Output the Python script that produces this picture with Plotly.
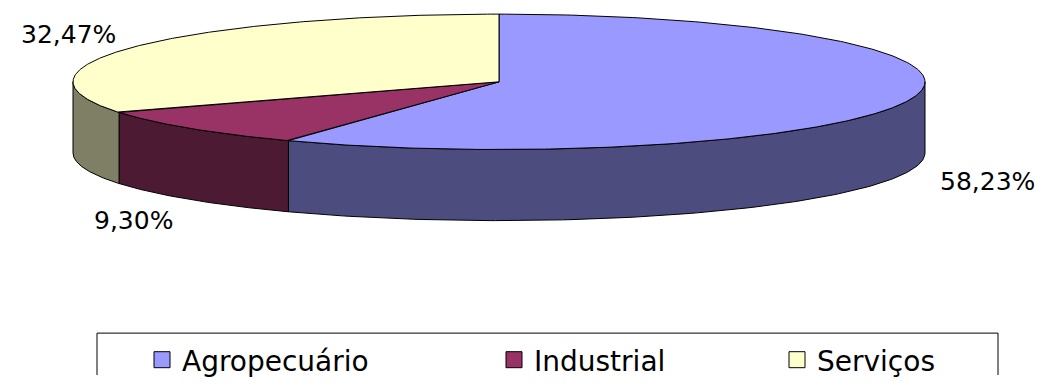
import numpy as np
import plotly.graph_objects as go

# Sector shares of the economy (%)
categories = ["Agropecuário", "Industrial", "Serviços"]
shares = [58.23, 9.30, 32.47]

# Slice colours: lit top face and shaded outer wall
top_colors = ["#9999FF", "#993366", "#FFFFCC"]
side_colors = ["#4C4C7F", "#4C1A33", "#7F7F66"]

# Canvas and 3D pie geometry (pixel units, y grows downwards)
W, H = 1049, 385
CX, CY = 499, 84          # centre of the top face
RX, RY = 426, 69.5        # semi-axes of the top ellipse
DEPTH = 73                # thickness of the disc
LABEL_KX, LABEL_KY, LABEL_DROP = 1.185, 1.33, 6
FONT = "DejaVu Sans"


def rim(t, dy=0.0):
    """Point on the ellipse rim; t measured clockwise from 12 o'clock."""
    return CX + RX * np.sin(t), CY - RY * np.cos(t) + dy


fig = go.Figure()

bounds = np.concatenate([[0.0], np.cumsum(shares)]) / sum(shares) * 2 * np.pi

# Outer walls (only the front half of the disc faces the viewer)
for i, name in enumerate(categories):
    lo = max(bounds[i], np.pi / 2)
    hi = min(bounds[i + 1], 3 * np.pi / 2)
    if hi <= lo:
        continue
    t = np.linspace(lo, hi, 120)
    xt, yt = rim(t)
    xb, yb = rim(t[::-1], DEPTH)
    fig.add_trace(go.Scatter(
        x=np.concatenate([xt, xb, xt[:1]]),
        y=np.concatenate([yt, yb, yt[:1]]),
        mode="lines", fill="toself", fillcolor=side_colors[i],
        line=dict(color="black", width=1),
        hoverinfo="skip", showlegend=False,
    ))

# Top faces
for i, name in enumerate(categories):
    t = np.linspace(bounds[i], bounds[i + 1], 300)
    xt, yt = rim(t)
    fig.add_trace(go.Scatter(
        x=np.concatenate([[CX], xt, [CX]]),
        y=np.concatenate([[CY], yt, [CY]]),
        mode="lines", fill="toself", fillcolor=top_colors[i],
        line=dict(color="black", width=1),
        name=name, hoverinfo="name", showlegend=False,
    ))

# Percentage labels outside each slice
for i, v in enumerate(shares):
    mid = (bounds[i] + bounds[i + 1]) / 2
    lx = CX + LABEL_KX * RX * np.sin(mid)
    ly = CY - LABEL_KY * RY * np.cos(mid)
    if np.cos(mid) < 0:
        ly += DEPTH + LABEL_DROP
    fig.add_annotation(
        x=lx, y=ly, text=f"{v:.2f}".replace(".", ",") + "%",
        showarrow=False, xanchor="center", yanchor="middle",
        font=dict(family=FONT, size=25, color="black"),
    )

# Legend entries, one legend per category laid out along the bottom
legend_ids = ["legend", "legend2", "legend3"]
legend_x = [142, 494, 777]
for i, name in enumerate(categories):
    fig.add_trace(go.Scatter(
        x=[None], y=[None], mode="markers", name=name,
        marker=dict(symbol="square", size=16, color=top_colors[i],
                    line=dict(color="black", width=1)),
        legend=legend_ids[i], showlegend=True,
    ))

legend_style = dict(
    orientation="h", xanchor="left", yanchor="middle",
    y=1 - 370 / H, bgcolor="rgba(0,0,0,0)", borderwidth=0,
    font=dict(family=FONT, size=28, color="black"),
)
fig.update_layout(
    legend=dict(x=legend_x[0] / W, **legend_style),
    legend2=dict(x=legend_x[1] / W, **legend_style),
    legend3=dict(x=legend_x[2] / W, **legend_style),
)

# Frame around the legend row
fig.add_shape(type="rect", xref="x", yref="y", x0=97, x1=998, y0=342, y1=H + 10,
              line=dict(color="black", width=1), fillcolor="rgba(0,0,0,0)",
              layer="below")

fig.update_layout(
    width=W, height=H,
    margin=dict(l=0, r=0, t=0, b=0),
    paper_bgcolor="white", plot_bgcolor="white",
    xaxis=dict(range=[0, W], visible=False, fixedrange=True),
    yaxis=dict(range=[H, 0], visible=False, fixedrange=True),
)

fig.write_html("out.html")
